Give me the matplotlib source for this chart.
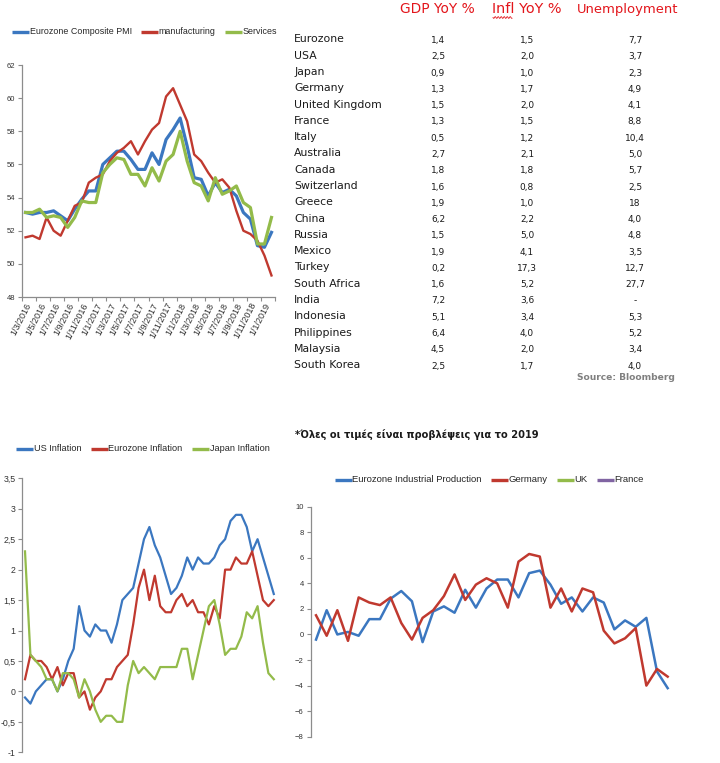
import matplotlib
matplotlib.use('Agg')
import matplotlib.pyplot as plt
from matplotlib.lines import Line2D
import numpy as np

# ---------------- data ----------------
pmi_labels = ['1/3/2016', '1/5/2016', '1/7/2016', '1/9/2016', '1/11/2016', '1/1/2017',
              '1/3/2017', '1/5/2017', '1/7/2017', '1/9/2017', '1/11/2017', '1/1/2018',
              '1/3/2018', '1/5/2018', '1/7/2018', '1/9/2018', '1/11/2018', '1/1/2019']
pmi_names = ['Eurozone Composite PMI', 'manufacturing', 'Services']
composite = [53.1, 53.0, 53.1, 53.1, 53.2, 52.9, 52.6, 53.3, 53.9, 54.4, 54.4, 56.0,
             56.4, 56.8, 56.8, 56.3, 55.7, 55.7, 56.7, 56.0, 57.5, 58.1, 58.8, 57.1,
             55.2, 55.1, 54.1, 54.9, 54.3, 54.5, 54.1, 53.1, 52.7, 51.1, 51.0, 51.9]
manufacturing = [51.6, 51.7, 51.5, 52.8, 52.0, 51.7, 52.6, 53.5, 53.7, 54.9, 55.2, 55.4,
                 56.2, 56.7, 57.0, 57.4, 56.6, 57.4, 58.1, 58.5, 60.1, 60.6, 59.6, 58.6,
                 56.6, 56.2, 55.5, 54.9, 55.1, 54.6, 53.2, 52.0, 51.8, 51.4, 50.5, 49.3]
services = [53.1, 53.1, 53.3, 52.8, 52.9, 52.8, 52.2, 52.8, 53.8, 53.7, 53.7, 55.5,
            56.0, 56.4, 56.3, 55.4, 55.4, 54.7, 55.8, 55.0, 56.2, 56.6, 58.0, 56.2,
            54.9, 54.7, 53.8, 55.2, 54.2, 54.4, 54.7, 53.7, 53.4, 51.2, 51.2, 52.8]
pmi_yticks = [48, 50, 52, 54, 56, 58, 60, 62]

table_headers = ['GDP YoY %', 'Infl YoY %', 'Unemployment']
countries = ['Eurozone', 'USA', 'Japan', 'Germany', 'United Kingdom', 'France', 'Italy',
             'Australia', 'Canada', 'Switzerland', 'Greece', 'China', 'Russia', 'Mexico',
             'Turkey', 'South Africa', 'India', 'Indonesia', 'Philippines', 'Malaysia',
             'South Korea']
gdp = ['1,4', '2,5', '0,9', '1,3', '1,5', '1,3', '0,5', '2,7', '1,8', '1,6', '1,9', '6,2',
       '1,5', '1,9', '0,2', '1,6', '7,2', '5,1', '6,4', '4,5', '2,5']
infl = ['1,5', '2,0', '1,0', '1,7', '2,0', '1,5', '1,2', '2,1', '1,8', '0,8', '1,0', '2,2',
        '5,0', '4,1', '17,3', '5,2', '3,6', '3,4', '4,0', '2,0', '1,7']
unemp = ['7,7', '3,7', '2,3', '4,9', '4,1', '8,8', '10,4', '5,0', '5,7', '2,5', '18', '4,0',
         '4,8', '3,5', '12,7', '27,7', '-', '5,3', '5,2', '3,4', '4,0']
source_text = 'Source: Bloomberg'
footnote = '*Όλες οι τιμές είναι προβλέψεις για το 2019'

infl_names = ['US Inflation', 'Eurozone Inflation', 'Japan Inflation']
us_infl = [-0.1, -0.2, 0.0, 0.1, 0.2, 0.2, 0.0, 0.2, 0.5, 0.7, 1.4, 1.0, 0.9, 1.1, 1.0, 1.0,
           0.8, 1.1, 1.5, 1.6, 1.7, 2.1, 2.5, 2.7, 2.4, 2.2, 1.9, 1.6, 1.7, 1.9, 2.2, 2.0,
           2.2, 2.1, 2.1, 2.2, 2.4, 2.5, 2.8, 2.9, 2.9, 2.7, 2.3, 2.5, 2.2, 1.9, 1.6]
ez_infl = [0.2, 0.6, 0.5, 0.5, 0.4, 0.2, 0.4, 0.1, 0.3, 0.3, -0.1, 0.0, -0.3, -0.1, 0.0, 0.2,
           0.2, 0.4, 0.5, 0.6, 1.1, 1.7, 2.0, 1.5, 1.9, 1.4, 1.3, 1.3, 1.5, 1.6, 1.4, 1.5,
           1.3, 1.3, 1.1, 1.4, 1.2, 2.0, 2.0, 2.2, 2.1, 2.1, 2.3, 1.9, 1.5, 1.4, 1.5]
jp_infl = [2.3, 0.6, 0.5, 0.4, 0.2, 0.2, 0.0, 0.3, 0.3, 0.2, -0.1, 0.2, 0.0, -0.3, -0.5, -0.4,
           -0.4, -0.5, -0.5, 0.1, 0.5, 0.3, 0.4, 0.3, 0.2, 0.4, 0.4, 0.4, 0.4, 0.7, 0.7, 0.2,
           0.6, 1.0, 1.4, 1.5, 1.1, 0.6, 0.7, 0.7, 0.9, 1.3, 1.2, 1.4, 0.8, 0.3, 0.2]
infl_yticks = [-1, -0.5, 0, 0.5, 1, 1.5, 2, 2.5, 3, 3.5]
infl_ylabels = ['-1', '-0,5', '0', '0,5', '1', '1,5', '2', '2,5', '3', '3,5']

ip_names = ['Eurozone Industrial Production', 'Germany', 'UK', 'France']
ez_ip = [-0.4, 1.9, 0.0, 0.2, -0.1, 1.2, 1.2, 2.8, 3.4, 2.6, -0.6, 1.8, 2.2, 1.7, 3.5, 2.1,
         3.6, 4.3, 4.3, 2.9, 4.8, 5.0, 3.9, 2.4, 2.9, 1.8, 2.9, 2.5, 0.4, 1.1, 0.6, 1.3,
         -2.9, -4.2]
de_ip = [1.5, -0.1, 1.9, -0.5, 2.9, 2.5, 2.3, 2.9, 0.9, -0.4, 1.3, 1.9, 3.0, 4.7, 2.7, 3.9,
         4.4, 4.0, 2.1, 5.7, 6.3, 6.1, 2.1, 3.6, 1.8, 3.6, 3.3, 0.3, -0.7, -0.3, 0.5, -4.0,
         -2.7, -3.3]
uk_ip = []
fr_ip = []
ip_yticks = [-8, -6, -4, -2, 0, 2, 4, 6, 8, 10]

# ---------------- style ----------------
BLUE = '#3B77C0'
RED = '#C0392F'
GREEN = '#93BB4A'
PURPLE = '#8064A2'
AXC = '#8C8C8C'
HDR_RED = '#E3151B'
NARROW = ['Liberation Sans Narrow', 'Liberation Sans', 'DejaVu Sans']

W, H = 720, 763
fig = plt.figure(figsize=(W / 100, H / 100), dpi=100)
fig.patch.set_facecolor('white')
renderer = fig.canvas.get_renderer()


def rect(x0, y0, x1, y1):
    return [x0 / W, 1 - y1 / H, (x1 - x0) / W, (y1 - y0) / H]


def fx(x):
    return x / W


def fy(y):
    return 1 - y / H


def fit_text(x, y, s, target_w, max_fs=12, **kw):
    t = fig.text(fx(x), fy(y), s, **kw)
    w = t.get_window_extent(renderer).width
    if w > 0:
        t.set_fontsize(min(max_fs, t.get_fontsize() * target_w / w))
    return t


def style(ax, fs):
    for s in ['top', 'right']:
        ax.spines[s].set_visible(False)
    for s in ['left', 'bottom']:
        ax.spines[s].set_color(AXC)
        ax.spines[s].set_linewidth(0.9)
    ax.tick_params(axis='both', which='both', colors=AXC, labelcolor='#333333',
                   length=3, width=0.8, labelsize=fs, pad=2)
    for lab in ax.get_yticklabels():
        lab.set_family(NARROW)
    ax.set_facecolor('none')


def legend_row(center_x, y, names, colors, fs, handle=17, gap=10):
    texts = []
    for n in names:
        t = fig.text(0, fy(y), n, ha='left', va='center', fontsize=fs,
                     family=NARROW, color='#262626')
        texts.append(t)
    widths = [t.get_window_extent(renderer).width for t in texts]
    total = sum(widths) + handle * len(names) + gap * (len(names) - 1)
    x = center_x - total / 2
    for t, w, c in zip(texts, widths, colors):
        fig.add_artist(Line2D([fx(x), fx(x + handle)], [fy(y), fy(y)],
                              transform=fig.transFigure, color=c, lw=2.4,
                              solid_capstyle='butt'))
        t.set_x(fx(x + handle + 0.5))
        x += handle + w + gap


# ---------------- panel 1: PMI ----------------
ax1 = fig.add_axes(rect(22, 65, 275, 297))
x1 = np.arange(len(composite))
ax1.plot(x1, composite, color=BLUE, lw=2.3)
ax1.plot(x1, manufacturing, color=RED, lw=1.7)
ax1.plot(x1, services, color=GREEN, lw=2.3)
ax1.set_xlim(-0.5, len(composite) - 0.5)
ax1.set_ylim(48, 62)
ax1.set_yticks(pmi_yticks)
ax1.set_xticks(np.arange(-0.5, len(composite), 2))
ax1.set_xticklabels([])
ax1.set_xticks(np.arange(0, len(composite), 2), minor=True)
ax1.set_xticklabels(pmi_labels, minor=True, rotation=63, ha='right',
                    rotation_mode='anchor', family=NARROW)
style(ax1, 5.5)
ax1.tick_params(axis='x', which='minor', length=0, pad=3, labelsize=6.5)

legend_row(144.5, 32, pmi_names, [BLUE, RED, GREEN], 6.4)

# ---------------- panel 2: table ----------------
hdr = [(400, 75), (492, 70), (577, 101)]
for (hx, hw), h in zip(hdr, table_headers):
    fit_text(hx, 9, h, hw, ha='left', va='center', fontsize=9,
             color=HDR_RED, family='DejaVu Sans')
# spell-check squiggle under "Infl"
sq_x = np.linspace(493, 512, 40)
sq_y = 17.5 + 0.9 * np.sin((sq_x - 493) * 2 * np.pi / 3.0)
fig.add_artist(Line2D(fx(sq_x), fy(sq_y), transform=fig.transFigure,
                      color=HDR_RED, lw=0.6))

col_x = [438, 527, 635]
for i, c in enumerate(countries):
    yy = 39.5 + 16.28 * i
    fig.text(fx(294), fy(yy), c, ha='left', va='center', fontsize=7.8,
             color='#1A1A1A', family='DejaVu Sans')
    for cx, col in zip(col_x, [gdp, infl, unemp]):
        fig.text(fx(cx), fy(yy + 1), col[i], ha='center', va='center', fontsize=6.5,
                 color='#1A1A1A', family='DejaVu Sans')
fit_text(577, 378, source_text, 98, ha='left', va='center', fontsize=6.5,
         color='#808080', fontweight='bold', family='DejaVu Sans')
fit_text(295, 434, footnote, 243, ha='left', va='center', fontsize=6.5,
         color='#1A1A1A', fontweight='bold', family='DejaVu Sans')

# ---------------- panel 3: inflation ----------------
ax3 = fig.add_axes(rect(22.3, 478.3, 276.5, 752.3))
x3 = np.arange(len(us_infl))
ax3.plot(x3, us_infl, color=BLUE, lw=1.6)
ax3.plot(x3, ez_infl, color=RED, lw=1.6)
ax3.plot(x3, jp_infl, color=GREEN, lw=1.6)
ax3.set_xlim(-0.5, len(us_infl) - 0.5)
ax3.set_ylim(-1, 3.5)
ax3.set_yticks(infl_yticks)
ax3.set_yticklabels(infl_ylabels)
ax3.set_xticks([])
style(ax3, 6.3)
ax3.spines['bottom'].set_visible(False)

legend_row(142.5, 449, infl_names, [BLUE, RED, GREEN], 6.6)

# ---------------- panel 4: industrial production ----------------
ax4 = fig.add_axes(rect(310.7, 506.7, 673, 736.7))
x4 = np.arange(len(ez_ip))
ax4.plot(x4, ez_ip, color=BLUE, lw=1.8)
ax4.plot(x4, de_ip, color=RED, lw=1.8)
ax4.plot(np.arange(len(uk_ip)), uk_ip, color=GREEN, lw=1.8)
ax4.plot(np.arange(len(fr_ip)), fr_ip, color=PURPLE, lw=1.8)
ax4.set_xlim(-0.5, len(ez_ip) - 0.5)
ax4.set_ylim(-8, 10)
ax4.set_yticks(ip_yticks)
ax4.set_xticks([])
style(ax4, 5.5)
ax4.spines['bottom'].set_visible(False)

legend_row(489, 480, ip_names, [BLUE, RED, GREEN, PURPLE], 6.8)

fig.savefig('out.png', dpi=100)
